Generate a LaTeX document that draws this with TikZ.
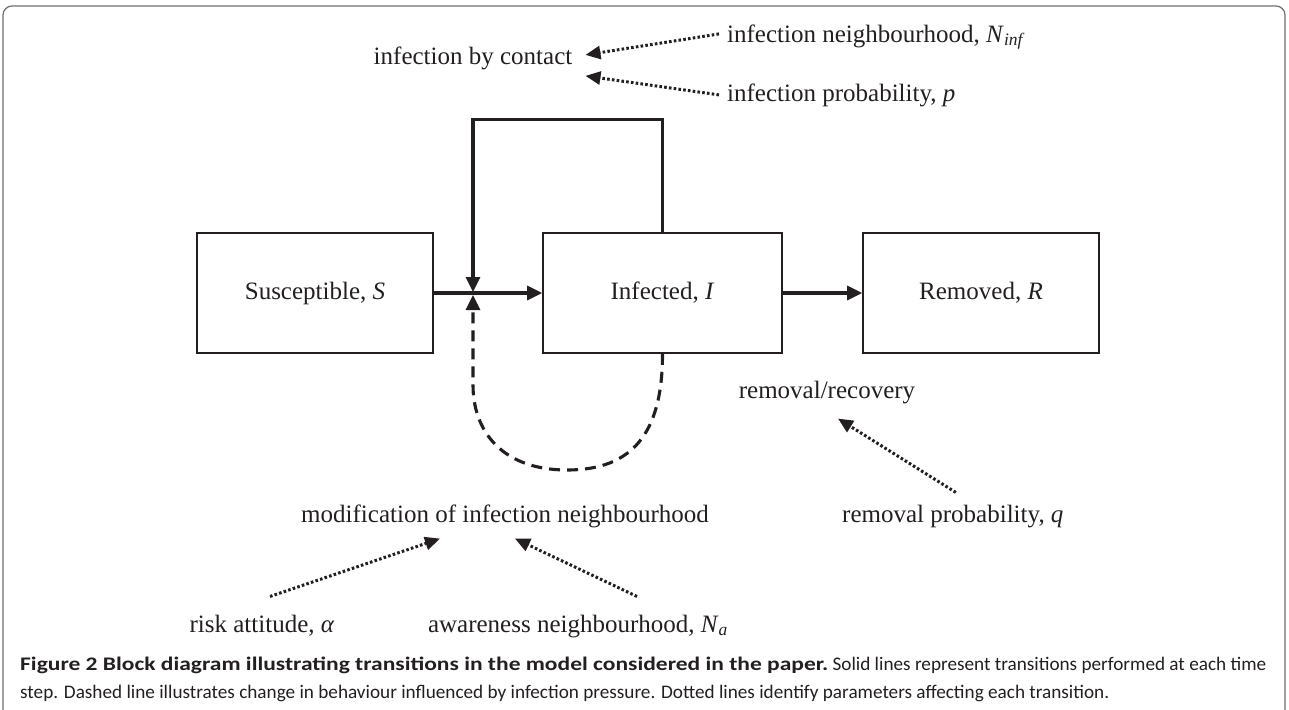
\documentclass[tikz,border=0pt]{standalone}
\usepackage{fontspec}
\usepackage{graphicx}
\setmainfont{Liberation Serif}
\newfontfamily\capfont{Carlito}
\usetikzlibrary{arrows.meta,calc}
\definecolor{ink}{HTML}{231F20}
\definecolor{framegray}{HTML}{6D6E71}
\begin{document}
\begin{tikzpicture}[x=1pt,y=-1pt,
  box/.style={draw=ink, line width=1.6pt, minimum height=120pt, inner sep=0pt,
    font=\fontsize{25}{28}\selectfont, text=ink},
  lbl/.style={inner sep=2pt, font=\fontsize{25}{28}\selectfont, text=ink},
  conn/.style={draw=ink, line width=3.1pt, -{Triangle[length=15pt,width=14pt]}},
  dashconn/.style={draw=ink, line width=3.1pt, dash pattern=on 11pt off 7pt,
    -{Triangle[length=15pt,width=14pt]}},
  dotarrow/.style={draw=ink, line width=3pt, dash pattern=on 2.6pt off 2.2pt,
    -{Triangle[length=15pt,width=13pt]}},
  capline/.style={anchor=base west, inner sep=0pt, text=ink,
    font=\capfont\fontsize{19.2}{28}\selectfont}
]
\useasboundingbox (0,0) rectangle (1289,709);
\begin{scope}
  \clip (0,0) rectangle (1289,709);
  \draw[framegray, line width=1.2pt, rounded corners=9pt] (3,6) rectangle (1285,780);
\end{scope}

% boxes
\node[box, minimum width=236pt] (S) at (315,293) {Susceptible, \textit{S}};
\node[box, minimum width=239pt] (I) at (662.5,293) {Infected, \textit{I}};
\node[box, minimum width=236pt] (R) at (981,293) {Removed, \textit{R}};
\coordinate (J) at (473,293);

% transitions
\draw[conn] (S) -- (I);
\draw[conn] (I) -- (R);
\draw[conn] (I.north) -- ++(0,-113) -| ($(J)+(0,-1)$);
\draw[dashconn] (I.south) .. controls ++(0,80) and (632,470) .. (567,470)
  .. controls (503,470) and (473,432) .. (473,385) -- ($(J)+(0,2)$);

% labels
\node[lbl, anchor=base] (contact) at (473,64) {infection by contact};
\node[lbl, anchor=base west] (ninf) at (725,42) {infection neighbourhood, \textit{N}\textsubscript{\textit{inf}}};
\node[lbl, anchor=base west] (pinf) at (725,101) {infection probability, \textit{p}};
\node[lbl, anchor=base] (rec) at (827,398) {removal/recovery};
\node[lbl, anchor=base west] (remq) at (840,522) {removal probability, \textit{q}};
\node[lbl, anchor=base] (mod) at (505,522) {modification of infection neighbourhood};
\node[lbl, anchor=base] (risk) at (262,632) {risk attitude, \textit{α}};
\node[lbl, anchor=base] (aw) at (578,632) {awareness neighbourhood, \textit{N}\textsubscript{\textit{a}}};

% parameter arrows
\draw[dotarrow] ($(ninf.west)+(-6,-3)$) -- ($(contact.east)+(11,-3)$);
\draw[dotarrow] ($(pinf.west)+(-6,0)$) -- ($(contact.east)+(11,18)$);
\draw[dotarrow] ($(remq.north)+(3,-10)$) -- ($(rec.south)+(11,13)$);
\draw[dotarrow] ($(risk.north)+(8,-16)$) -- ($(mod.south)+(-65,9)$);
\draw[dotarrow] ($(aw.north)+(59,-16)$) -- ($(mod.south)+(10,9)$);

% caption
\node[capline] (cap1) at (20,670) {\resizebox{808pt}{\height}{\textbf{Figure 2 Block diagram illustrating transitions in the model considered in the paper.}} Solid lines represent transitions performed at each time};
\node[capline] (cap2) at (20,698) {step. Dashed line illustrates change in behaviour influenced by infection pressure. Dotted lines identify parameters affecting each transition.};
\end{tikzpicture}
\end{document}
